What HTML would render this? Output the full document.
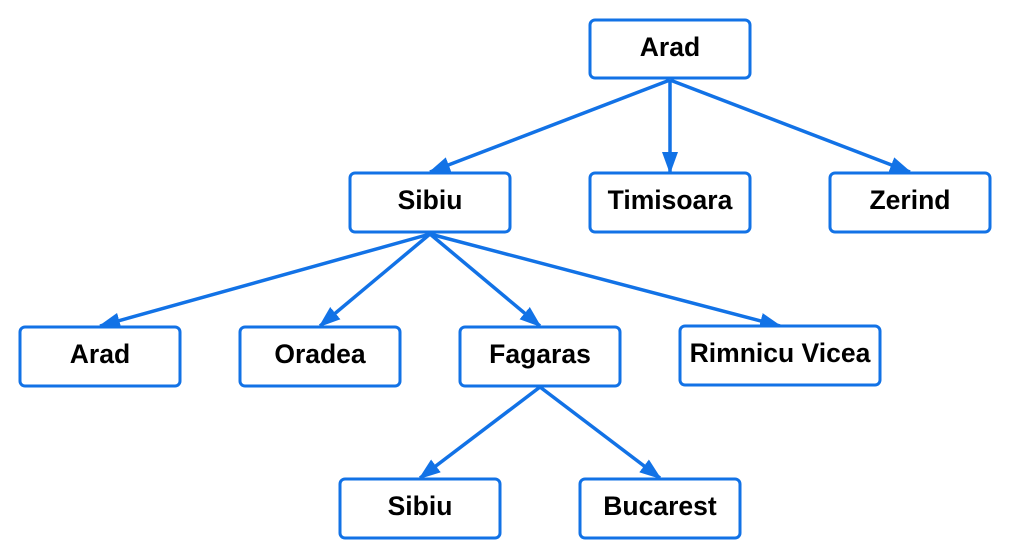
<!DOCTYPE html><html><head><style>body{margin:0;background:#fff;width:1010px;height:559px;overflow:hidden}svg{position:absolute;left:0;top:0}</style></head><body>
<svg width="1010" height="559" xmlns="http://www.w3.org/2000/svg" font-family="Liberation Sans, sans-serif">
<defs><marker id="a" markerWidth="22" markerHeight="16" refX="20" refY="8" orient="auto" markerUnits="userSpaceOnUse"><path d="M0,0 L22,8 L0,16 Z" fill="#1272e6"/></marker></defs>
<g stroke="#1272e6" stroke-width="3.5" fill="none" marker-end="url(#a)">
<line x1="670" y1="80" x2="430" y2="172"/><line x1="670" y1="80" x2="670" y2="172"/><line x1="670" y1="80" x2="910" y2="172"/>
<line x1="430" y1="234" x2="100" y2="326"/><line x1="430" y1="234" x2="320" y2="326"/><line x1="430" y1="234" x2="540" y2="326"/><line x1="430" y1="234" x2="780" y2="326"/>
<line x1="540" y1="387" x2="420" y2="478"/><line x1="540" y1="387" x2="660" y2="478"/>
</g>
<g stroke="#1272e6" stroke-width="3" fill="#fff">
<rect x="590" y="20" width="160" height="58" rx="5"/>
<rect x="350" y="173" width="160" height="59" rx="5"/><rect x="590" y="173" width="160" height="59" rx="5"/><rect x="830" y="173" width="160" height="59" rx="5"/>
<rect x="20" y="327" width="160" height="59" rx="5"/><rect x="240" y="327" width="160" height="59" rx="5"/><rect x="460" y="327" width="160" height="59" rx="5"/><rect x="680" y="326" width="200" height="59" rx="5"/>
<rect x="340" y="479" width="160" height="59" rx="5"/><rect x="580" y="479" width="160" height="59" rx="5"/>
</g>
<g font-size="26.5" font-weight="bold" text-anchor="middle" fill="#000">
<text x="670" y="56">Arad</text>
<text x="430" y="209">Sibiu</text><text x="670" y="209">Timisoara</text><text x="910" y="209">Zerind</text>
<text x="100" y="363">Arad</text><text x="320" y="363">Oradea</text><text x="540" y="363">Fagaras</text><text x="780" y="362">Rimnicu Vicea</text>
<text x="420" y="515">Sibiu</text><text x="660" y="515">Bucarest</text>
</g>
</svg></body></html>
